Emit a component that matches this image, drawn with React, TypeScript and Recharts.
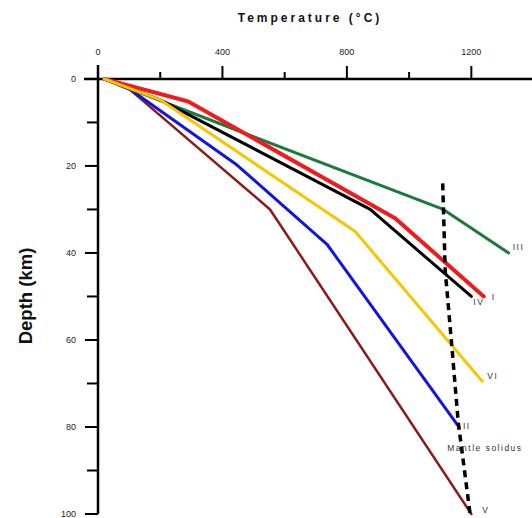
import { Line, LineChart, ReferenceLine, XAxis, YAxis } from "recharts"

const FONT = '"Liberation Sans", Arial, sans-serif'

// axis ticks
const TEMP_TICKS = [0, 200, 400, 600, 800, 1000, 1200]
const DEPTH_TICKS = [0, 10, 20, 30, 40, 50, 60, 70, 80, 90, 100]

// geotherms, temperature (°C) vs depth (km)
const geothermI = [
  { t: 20, d: 0 },
  { t: 290, d: 5.2 },
  { t: 955, d: 32 },
  { t: 1240, d: 50 },
]
const geothermII = [
  { t: 20, d: 0 },
  { t: 105, d: 2.5 },
  { t: 447, d: 19.8 },
  { t: 736, d: 38 },
  { t: 1160, d: 80 },
]
const geothermIII = [
  { t: 20, d: 0 },
  { t: 490, d: 13 },
  { t: 1110, d: 30 },
  { t: 1320, d: 40 },
]
const geothermIV = [
  { t: 20, d: 0 },
  { t: 200, d: 4.8 },
  { t: 875, d: 30 },
  { t: 1200, d: 50 },
]
const geothermV = [
  { t: 20, d: 0 },
  { t: 95, d: 2 },
  { t: 553, d: 30 },
  { t: 1200, d: 100 },
]
const geothermVI = [
  { t: 20, d: 0 },
  { t: 200, d: 4.8 },
  { t: 826, d: 35 },
  { t: 1235, d: 69.5 },
]
const mantleSolidus = [
  { t: 1108, d: 24 },
  { t: 1116, d: 44 },
  { t: 1138, d: 62 },
  { t: 1158, d: 79 },
  { t: 1196, d: 100 },
]

const SERIES = [
  { name: "V", data: geothermV, color: "#8b1a1a", width: 2.5, dx: 11, dy: -4 },
  { name: "II", data: geothermII, color: "#1414e0", width: 3, dx: 4, dy: -1 },
  { name: "III", data: geothermIII, color: "#1b7a3c", width: 3, dx: 4, dy: -6 },
  { name: "IV", data: geothermIV, color: "#000000", width: 3, dx: 2, dy: 6 },
  { name: "I", data: geothermI, color: "#ee1c1c", width: 4, dx: 8, dy: 1 },
  { name: "VI", data: geothermVI, color: "#f7c600", width: 3, dx: 5, dy: -5 },
]

const ZERO_OFFSET = 14 // px from plot edge to the 0 lines

function TempTick({ x, y, payload }: any) {
  const v = payload.value
  const major = v % 400 === 0
  const y0 = y + ZERO_OFFSET
  return (
    <g>
      <line x1={x} x2={x} y1={y0} y2={y0 - (major ? 13 : 7)} stroke="#000" strokeWidth={2} />
      {major && (
        <text x={x} y={y0 - 27} textAnchor="middle" dominantBaseline="central" fontSize={9} fill="#222" fontFamily={FONT}>
          {v}
        </text>
      )}
    </g>
  )
}

function DepthTick({ x, y, payload }: any) {
  const v = payload.value
  const major = v % 20 === 0
  const x0 = x + ZERO_OFFSET
  return (
    <g>
      <line x1={x0} x2={x0 - (major ? 13 : 11)} y1={y} y2={y} stroke="#000" strokeWidth={2} />
      {major && (
        <text x={x0 - 22} y={y} textAnchor="end" dominantBaseline="central" fontSize={9} fill="#222" fontFamily={FONT}>
          {v}
        </text>
      )}
    </g>
  )
}

// curve name drawn next to one point of the line (used as the dot renderer)
const nameDot = (text: string, idx: number, dx: number, dy: number) => (p: any) => {
  if (p.index !== idx) return <g key={`d${p.index}`} />
  return (
    <text
      key={`d${p.index}`}
      x={p.cx + dx}
      y={p.cy + dy}
      dominantBaseline="central"
      fontSize={8.5}
      letterSpacing={1.5}
      fill="#333"
      stroke="none"
      fontFamily={FONT}
    >
      {text}
    </text>
  )
}

export default function App() {
  return (
    <div style={{ position: "absolute", left: 0, top: 0, width: 532, height: 518, background: "#fff" }}>
      <LineChart width={532} height={518} margin={{ top: 35, right: 0, bottom: 4, left: 24 }}>
        <XAxis
          type="number"
          dataKey="t"
          orientation="top"
          domain={[-45, 1395]}
          ticks={TEMP_TICKS}
          interval={0}
          height={30}
          axisLine={false}
          tickLine={false}
          tickSize={0}
          tickMargin={0}
          tick={TempTick}
        />
        <YAxis
          type="number"
          reversed
          domain={[-3.2, 100]}
          ticks={DEPTH_TICKS}
          interval={0}
          width={60}
          axisLine={false}
          tickLine={false}
          tickSize={0}
          tickMargin={0}
          tick={DepthTick}
        />
        <ReferenceLine y={0} stroke="#000" strokeWidth={2.5} />
        <ReferenceLine x={0} stroke="#000" strokeWidth={2.5} />
        {SERIES.map((s) => (
          <Line
            key={s.name}
            data={s.data}
            dataKey="d"
            type="linear"
            stroke={s.color}
            strokeWidth={s.width}
            strokeLinejoin="round"
            strokeLinecap="round"
            dot={nameDot(s.name, s.data.length - 1, s.dx, s.dy)}
            activeDot={false}
            isAnimationActive={false}
          />
        ))}
        <Line
          data={mantleSolidus}
          dataKey="d"
          type="linear"
          stroke="#000"
          strokeWidth={3.5}
          strokeDasharray="7 5"
          dot={nameDot("Mantle solidus", 3, -11, 25)}
          activeDot={false}
          isAnimationActive={false}
        />
      </LineChart>
      <svg width={532} height={518} style={{ position: "absolute", left: 0, top: 0, pointerEvents: "none" }}>
        <text x={310} y={18} textAnchor="middle" dominantBaseline="central" fontSize={12} fontWeight="bold" letterSpacing={3} fill="#111" fontFamily={FONT}>
          Temperature (°C)
        </text>
        <text
          x={25}
          y={296}
          transform="rotate(-90 25 296)"
          textAnchor="middle"
          dominantBaseline="central"
          fontSize={18.5}
          fontWeight="bold"
          fill="#111"
          fontFamily={FONT}
        >
          Depth (km)
        </text>
      </svg>
    </div>
  )
}
